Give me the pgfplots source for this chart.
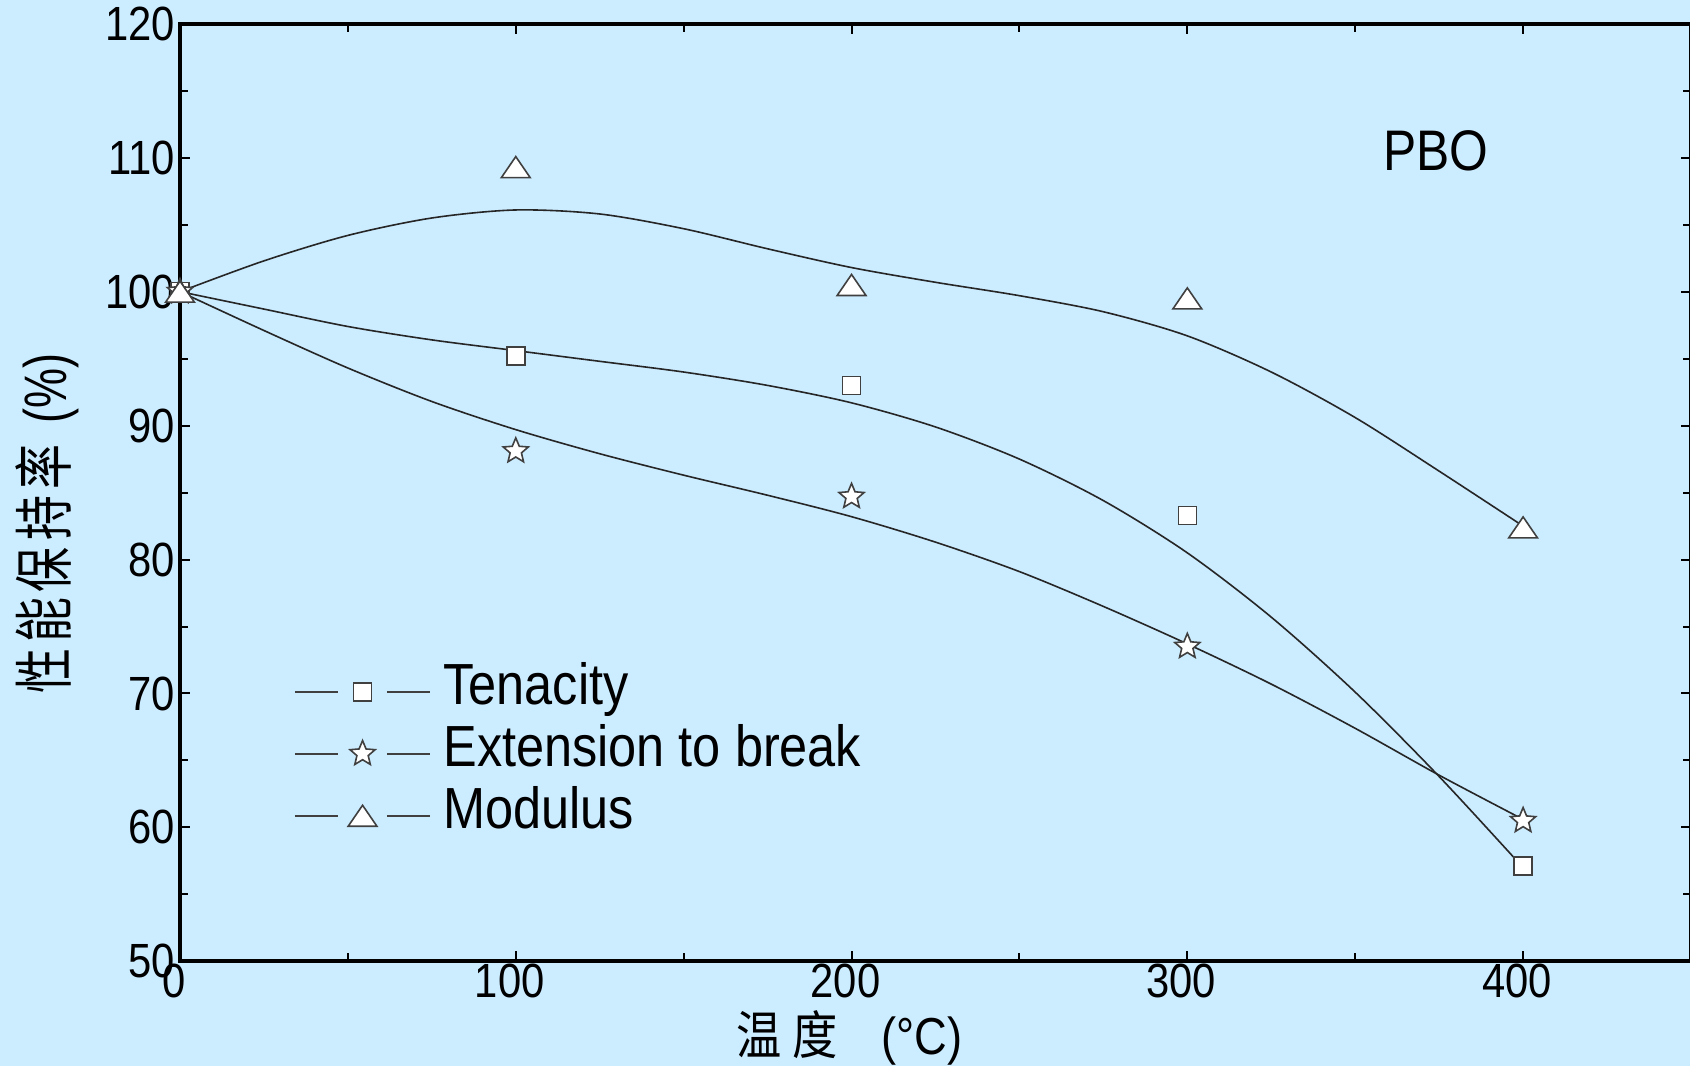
\documentclass[border=0pt]{standalone}
\usepackage{pgfplots}
\pgfplotsset{compat=1.18}
\usepackage{graphicx}
\usepackage{fontspec}
\setmainfont{Liberation Sans}[FakeStretch=0.87]
\newfontfamily\plainsans{Liberation Sans}
\newfontfamily\cjk{Noto Sans CJK SC}
\usetikzlibrary{plotmarks}
\definecolor{bg}{RGB}{204,236,255}
\pgfdeclareplotmark{ostar}{%
  \pgfpathmoveto{\pgfpointpolar{90}{\pgfplotmarksize}}%
  \pgfpathlineto{\pgfpointpolar{126}{0.45\pgfplotmarksize}}%
  \pgfpathlineto{\pgfpointpolar{162}{\pgfplotmarksize}}%
  \pgfpathlineto{\pgfpointpolar{198}{0.45\pgfplotmarksize}}%
  \pgfpathlineto{\pgfpointpolar{234}{\pgfplotmarksize}}%
  \pgfpathlineto{\pgfpointpolar{270}{0.45\pgfplotmarksize}}%
  \pgfpathlineto{\pgfpointpolar{306}{\pgfplotmarksize}}%
  \pgfpathlineto{\pgfpointpolar{342}{0.45\pgfplotmarksize}}%
  \pgfpathlineto{\pgfpointpolar{18}{\pgfplotmarksize}}%
  \pgfpathlineto{\pgfpointpolar{54}{0.45\pgfplotmarksize}}%
  \pgfpathclose
  \pgfusepathqfillstroke}
\pgfdeclareplotmark{otri}{%
  \pgfpathmoveto{\pgfqpoint{0pt}{0.73\pgfplotmarksize}}%
  \pgfpathlineto{\pgfqpoint{-\pgfplotmarksize}{-0.73\pgfplotmarksize}}%
  \pgfpathlineto{\pgfqpoint{\pgfplotmarksize}{-0.73\pgfplotmarksize}}%
  \pgfpathclose
  \pgfusepathqfillstroke}
\begin{document}
\begin{tikzpicture}
\useasboundingbox (0,0) rectangle (422.5pt,266.5pt);
\fill[bg] (0,0) rectangle (422.5pt,266.5pt);
\clip (0,0) rectangle (422.5pt,266.5pt);
\begin{axis}[
  at={(45pt,26.15pt)}, anchor=south west,
  scale only axis, width=377.75pt, height=234.4pt,
  xmin=0, xmax=450, ymin=50, ymax=120,
  xtick={0,100,200,300,400}, ytick={50,60,70,80,90,100,110,120},
  minor x tick num=1, minor y tick num=1,
  tick align=inside,
  major tick length=2.5pt, minor tick length=2pt,
  axis line style={line width=1pt},
  tick style={line width=0.5pt, black},
  axis on top,
  every tick label/.append style={font=\fontsize{12}{12}\selectfont},
  /pgf/number format/assume math mode=true,
  xticklabel style={inner sep=0.5pt, xshift=-1.5pt},
  yticklabel style={inner sep=1pt},
  clip=false,
  legend style={at={(axis cs:34,65.5)}, anchor=west, draw=none, fill=none,
    inner sep=0pt, outer sep=0pt, row sep=0pt, column sep=3.1pt,
    font=\fontsize{14.5}{15.5}\selectfont,
    nodes={inner sep=0pt, text height=11pt, text depth=4.5pt}},
  legend cell align=left,
  legend image code/.code={
    \draw[black!75, line width=0.4pt] (0pt,0pt) -- (10.8pt,0pt);
    \draw[black!75, line width=0.4pt] (23pt,0pt) -- (33.8pt,0pt);
    \draw[#1] plot coordinates {(16.9pt,0pt)};
  },
]
% fitted curves
\addplot[smooth, no marks, line width=0.4pt, black!85, forget plot] coordinates {
(0,100) (25,102.3) (50,104.2) (75,105.5) (100,106.1) (125,105.8) (150,104.7) (175,103.2) (200,101.8) (225,100.7) (250,99.7) (275,98.5) (300,96.7) (325,94.0) (350,90.6) (375,86.6) (400,82.5)};
\addplot[smooth, no marks, line width=0.4pt, black!85, forget plot] coordinates {
(0,100) (25,98.7) (50,97.4) (75,96.4) (100,95.6) (125,94.8) (150,94.0) (175,93.0) (200,91.7) (225,89.9) (250,87.5) (275,84.4) (300,80.5) (325,75.7) (350,70.1) (375,63.8) (400,57.0)};
\addplot[smooth, no marks, line width=0.4pt, black!85, forget plot] coordinates {
(0,100) (25,97.1) (50,94.3) (75,91.8) (100,89.7) (125,87.9) (150,86.3) (175,84.8) (200,83.2) (225,81.3) (250,79.1) (275,76.5) (300,73.7) (325,70.7) (350,67.4) (375,63.9) (400,60.6)};
% data points
\addplot[only marks, mark=square*, mark size=2.25pt, mark options={fill=white, draw=black!75, line width=0.4pt}] coordinates {
(0,100) (100,95.2) (200,93.0) (300,83.3) (400,57.1)};
\addlegendentry{Tenacity}
\addplot[only marks, mark=ostar, mark size=3.3pt, mark options={fill=white, draw=black!75, line width=0.4pt}] coordinates {
(0,100) (100,88.1) (200,84.7) (300,73.5) (400,60.5)};
\addlegendentry{Extension to break}
\addplot[only marks, mark=otri, mark size=3.6pt, mark options={fill=white, draw=black!75, line width=0.4pt}] coordinates {
(0,100) (100,109.3) (200,100.5) (300,99.5) (400,82.4)};
\addlegendentry{Modulus}
\node[font=\fontsize{14.3}{14.3}\selectfont] at (axis cs:374,110.5) {PBO};
\end{axis}
\node at (212.4pt,7.1pt) {\scalebox{0.87}[1]{\fontsize{13}{13}\selectfont{\cjk 温}\hspace{3pt}{\cjk 度}\hspace{12.5pt}{\plainsans(°C)}}};
\node[rotate=90] at (11.9pt,135.5pt) {\scalebox{0.75}[1]{\fontsize{15}{15}\selectfont{\cjk 性\hspace{2pt}能\hspace{2pt}保\hspace{2pt}持\hspace{2pt}率}\hspace{7pt}{\plainsans(\%)}}};
\end{tikzpicture}
\end{document}
